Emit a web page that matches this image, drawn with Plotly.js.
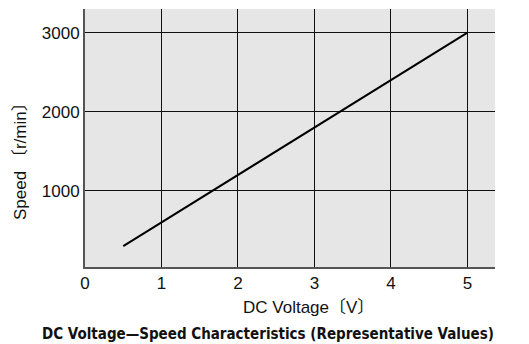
<!DOCTYPE html>
<html><head><meta charset="utf-8">
<script src="https://cdn.plot.ly/plotly-3.0.1.min.js"></script>
<style>html,body{margin:0;padding:0;background:#fff}#c{width:529px;height:344px}</style>
</head><body><div id="c"></div>
<script>
const voltage = [0.5, 5];
const speed = [300, 3000];
const xTicks = [0, 1, 2, 3, 4, 5];
const yTicks = [1000, 2000, 3000];
const chartTitle = 'DC Voltage\u2014Speed Characteristics (Representative Values)';
const xTitle = 'DC Voltage\u3014V\u3015';
const yTitle = 'Speed \u3014r/min\u3015';

const font = 'Liberation Sans, Arial, "Noto Sans CJK JP", sans-serif';
Plotly.newPlot('c', [{
  x: voltage, y: speed, type: 'scatter', mode: 'lines',
  line: {color: '#000', width: 2}, hoverinfo: 'skip'
}], {
  width: 529, height: 344,
  margin: {l: 85, r: 34, t: 9, b: 77},
  paper_bgcolor: '#fff', plot_bgcolor: '#e6e6e6',
  showlegend: false,
  font: {family: font, size: 17, color: '#111'},
  xaxis: {range: [0, 5.36], tickvals: xTicks, ticktext: xTicks.map(String),
    showgrid: true, gridcolor: '#111', gridwidth: 1,
    zeroline: false, showline: true, linecolor: '#555', linewidth: 2,
    ticks: '', ticklen: 0, tickfont: {size: 17}, fixedrange: true},
  yaxis: {range: [35, 3300], tickvals: yTicks, ticktext: yTicks.map(String),
    showgrid: true, gridcolor: '#111', gridwidth: 1,
    zeroline: false, showline: true, linecolor: '#555', linewidth: 2,
    ticks: '', ticklen: 0, tickfont: {size: 17}, fixedrange: true},
  annotations: [
    {text: xTitle, xref: 'paper', yref: 'paper', x: (308.7-85)/410, y: -(307-267)/258,
     xanchor: 'center', yanchor: 'middle', showarrow: false, font: {size: 17}},
    {text: yTitle, xref: 'paper', yref: 'paper', x: -(85-20.5)/410, y: (267-157.5)/258,
     xanchor: 'center', yanchor: 'middle', textangle: -90, showarrow: false, font: {size: 17}},
    {text: '<b>' + chartTitle + '</b>', xref: 'paper', yref: 'paper', x: (268-85)/410, y: -(334-267)/258,
     xanchor: 'center', yanchor: 'middle', showarrow: false,
     font: {size: 15, family: '"DejaVu Sans Condensed", "Liberation Sans Narrow", Arial, "Noto Sans CJK JP", sans-serif'}}
  ]
}, {staticPlot: true});
</script></body></html>
